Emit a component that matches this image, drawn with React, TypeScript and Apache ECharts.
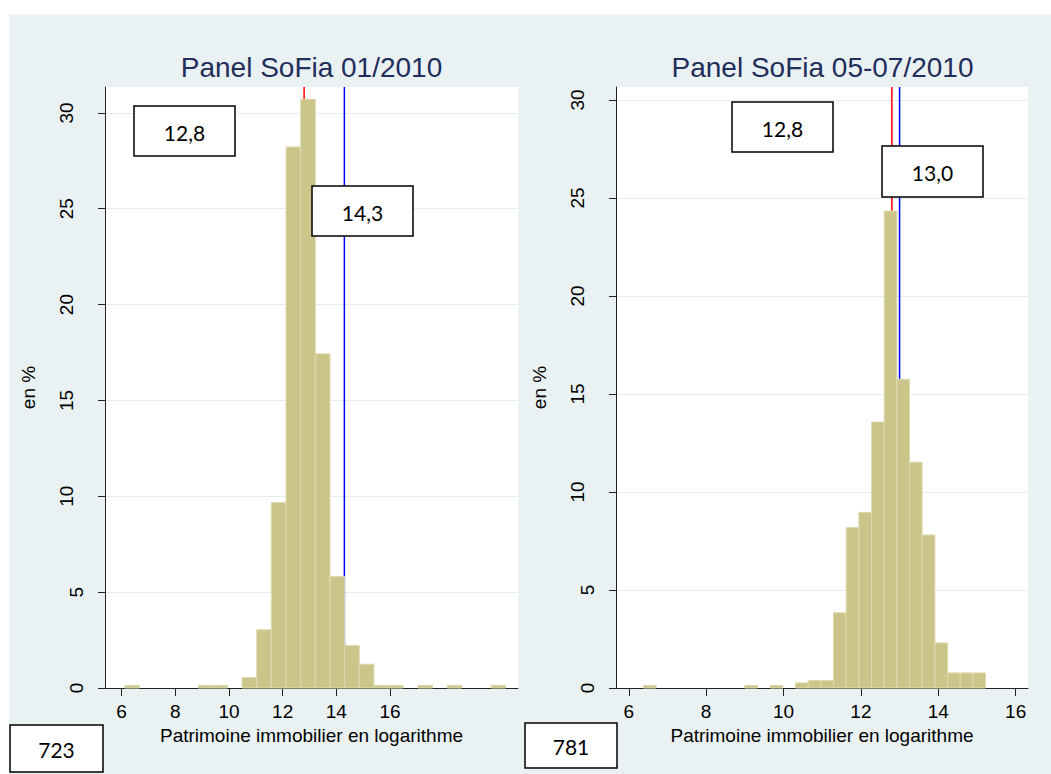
import { useEffect, useRef } from 'react';
import * as echarts from 'echarts';

// Shared axis ticks
const X_TICKS = [6, 8, 10, 12, 14, 16];
const Y_TICKS = [0, 5, 10, 15, 20, 25, 30];

// Panel SoFia 01/2010 — histogram in %, bins of equal width
const JAN_TITLE = 'Panel SoFia 01/2010';
const JAN_COUNT = '723';
const JAN_BIN_START = 6.12;
const JAN_BIN_WIDTH = 0.546;
const JAN_PERCENT = [
  0.14, 0, 0, 0, 0, 0.14, 0.14, 0, 0.55, 3.04, 9.68, 28.22, 30.71, 17.43, 5.81,
  2.21, 1.24, 0.14, 0.14, 0, 0.14, 0, 0.14, 0, 0, 0.14,
];
const JAN_RED = 12.8;
const JAN_BLUE = 14.3;

// Panel SoFia 05-07/2010
const SUMMER_TITLE = 'Panel SoFia 05-07/2010';
const SUMMER_COUNT = '781';
const SUMMER_BIN_START = 6.38;
const SUMMER_BIN_WIDTH = 0.3275;
const SUMMER_PERCENT = [
  0.13, 0, 0, 0, 0, 0, 0, 0, 0.13, 0, 0.13, 0, 0.26, 0.38, 0.38, 3.84, 8.19,
  8.96, 13.57, 24.33, 15.75, 11.52, 7.81, 2.3, 0.77, 0.77, 0.77,
];
const SUMMER_RED = 12.8;
const SUMMER_BLUE = 13.0;

const SANS = 'Liberation Sans, Arial, sans-serif';
const BOX_FONT = 'Lato, Carlito, sans-serif';
const BG = '#EAF1F3';
const BAR_FILL = '#CCC589';
const BAR_EDGE = '#DEDAB0';

const fmt = (v: number) => v.toFixed(1).replace('.', ',');

function binRows(start: number, width: number, pct: number[]) {
  const rows: number[][] = [];
  pct.forEach((p, i) => {
    if (p > 0) rows.push([start + i * width, start + (i + 1) * width, p]);
  });
  return rows;
}

function histSeries(idx: number, rows: number[][]) {
  return {
    type: 'custom',
    xAxisIndex: idx,
    yAxisIndex: idx,
    z: 3,
    data: rows,
    encode: { x: [0, 1], y: 2 },
    renderItem: (_p: any, api: any) => {
      const a = api.coord([api.value(0), api.value(2)]);
      const b = api.coord([api.value(1), 0]);
      return {
        type: 'rect',
        shape: { x: a[0], y: a[1], width: b[0] - a[0], height: b[1] - a[1] },
        style: { fill: BAR_FILL, stroke: BAR_EDGE, lineWidth: 1 },
      };
    },
  };
}

function vLine(idx: number, x: number, top: number, color: string) {
  return {
    type: 'line',
    xAxisIndex: idx,
    yAxisIndex: idx,
    z: 1,
    showSymbol: false,
    symbol: 'none',
    silent: true,
    data: [
      [x, 0],
      [x, top],
    ],
    lineStyle: { color, width: 1.5 },
  };
}

function box(x: number, y: number, w: number, h: number, text: string) {
  return {
    type: 'group',
    x,
    y,
    children: [
      {
        type: 'rect',
        z: 100,
        shape: { x: 0, y: 0, width: w, height: h },
        style: { fill: '#fff', stroke: '#000', lineWidth: 1.5 },
      },
      {
        type: 'text',
        z: 101,
        x: w / 2,
        y: h / 2 + 1,
        style: {
          text,
          fill: '#000',
          font: `21px ${BOX_FONT}`,
          align: 'center',
          verticalAlign: 'middle',
        },
      },
    ],
  };
}

function xAxis(idx: number, min: number, max: number) {
  return {
    type: 'value',
    gridIndex: idx,
    min,
    max,
    axisLine: { show: true, onZero: false, lineStyle: { color: '#222', width: 1 } },
    axisTick: { show: true, customValues: X_TICKS, length: 8, lineStyle: { color: '#222' } },
    axisLabel: {
      customValues: X_TICKS,
      margin: 14,
      fontSize: 19,
      color: '#000',
      fontFamily: SANS,
    },
    splitLine: { show: false },
    name: 'Patrimoine immobilier en logarithme',
    nameLocation: 'middle',
    nameGap: 34,
    nameTextStyle: { fontSize: 19, color: '#000', fontFamily: SANS },
  };
}

function yAxis(idx: number, max: number) {
  return {
    type: 'value',
    gridIndex: idx,
    min: 0,
    max,
    interval: 5,
    axisLine: { show: true, lineStyle: { color: '#222', width: 1 } },
    axisTick: { show: true, customValues: Y_TICKS, length: 7, lineStyle: { color: '#222' } },
    axisLabel: {
      customValues: Y_TICKS,
      rotate: 90,
      margin: 19,
      fontSize: 19,
      color: '#000',
      fontFamily: SANS,
      formatter: (v: number) => (String(v).length > 1 ? `{w|${v}}` : `{n|${v}}`),
      rich: {
        w: { fontSize: 19, fontFamily: SANS, color: '#000', padding: [0, 0, 10, 0] },
        n: { fontSize: 19, fontFamily: SANS, color: '#000' },
      },
    },
    splitLine: { show: true, lineStyle: { color: '#E4EDEF', width: 1 } },
    name: 'en %',
    nameLocation: 'middle',
    nameRotate: 90,
    nameGap: 67,
    nameTextStyle: { fontSize: 19, color: '#000', fontFamily: SANS },
  };
}

const JAN_X = [5.38, 20.77];
const JAN_YMAX = 31.35;
const SUMMER_X = [5.67, 16.32];
const SUMMER_YMAX = 30.66;

export default function App() {
  const ref = useRef<HTMLDivElement>(null);

  useEffect(() => {
    if (!ref.current) return;
    const chart = echarts.init(ref.current, undefined, { renderer: 'svg' });
    const titleStyle = {
      fontSize: 28,
      fontWeight: 'normal' as const,
      color: '#1F2E5B',
      fontFamily: SANS,
    };
    chart.setOption({
      animation: false,
      backgroundColor: BG,
      title: [
        { text: JAN_TITLE, left: 311.5, top: 53, textAlign: 'center', padding: 0, textStyle: titleStyle },
        { text: SUMMER_TITLE, left: 822.5, top: 53, textAlign: 'center', padding: 0, textStyle: titleStyle },
      ],
      grid: [
        { left: 105, top: 87, width: 413, height: 601, show: true, backgroundColor: '#fff', borderWidth: 0 },
        { left: 616, top: 87, width: 412, height: 601, show: true, backgroundColor: '#fff', borderWidth: 0 },
      ],
      xAxis: [xAxis(0, JAN_X[0], JAN_X[1]), xAxis(1, SUMMER_X[0], SUMMER_X[1])],
      yAxis: [yAxis(0, JAN_YMAX), yAxis(1, SUMMER_YMAX)],
      series: [
        vLine(0, JAN_RED, JAN_YMAX, '#FF0000'),
        vLine(0, JAN_BLUE, JAN_YMAX, '#0000FF'),
        histSeries(0, binRows(JAN_BIN_START, JAN_BIN_WIDTH, JAN_PERCENT)),
        vLine(1, SUMMER_RED, SUMMER_YMAX, '#FF0000'),
        vLine(1, SUMMER_BLUE, SUMMER_YMAX, '#0000FF'),
        histSeries(1, binRows(SUMMER_BIN_START, SUMMER_BIN_WIDTH, SUMMER_PERCENT)),
      ],
      graphic: [
        // white page margin around the panel background
        { type: 'rect', shape: { x: 0, y: 0, width: 1051, height: 14 }, style: { fill: '#fff' }, z: 50 },
        { type: 'rect', shape: { x: 0, y: 0, width: 9, height: 774 }, style: { fill: '#fff' }, z: 50 },
        box(134, 106, 101, 50, fmt(JAN_RED)),
        box(312, 186, 101, 50, fmt(JAN_BLUE)),
        box(10, 725, 93, 47, JAN_COUNT),
        box(732, 102, 101, 50, fmt(SUMMER_RED)),
        box(882, 146, 101, 51, fmt(SUMMER_BLUE)),
        box(525, 723, 92, 45, SUMMER_COUNT),
      ],
    });
    return () => chart.dispose();
  }, []);

  return (
    <div
      ref={ref}
      style={{ position: 'fixed', left: 0, top: 0, width: 1051, height: 774 }}
    />
  );
}
